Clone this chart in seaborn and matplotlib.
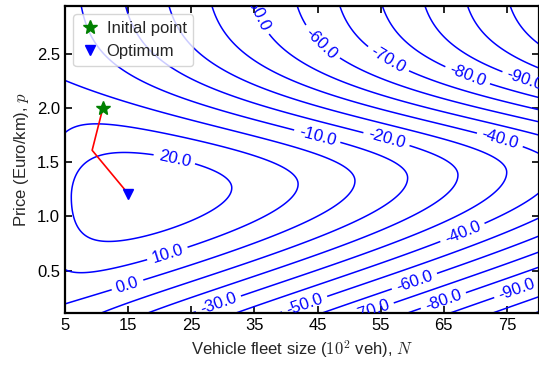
import numpy as np
import pandas as pd
import matplotlib
matplotlib.use("Agg")
import matplotlib.pyplot as plt
import seaborn as sns

# ---- profit model parameters ----
R_MAX = 96.0          # saturated peak revenue
K_HALF = 13.94        # fleet size giving half of the peak revenue
COST = 1.48           # fleet cost per 10^2 vehicles
P_RIDGE0, P_RIDGE1 = 1.16, 0.0033   # revenue-maximising price vs fleet size
UP0, UP1 = 1.02, 0.0081             # demand decay above the ridge price
K_LOW = 1.03                         # revenue shape below the ridge price
M0, M1, M_SCALE = 1.0, 3.0, 25.0

fleet_range = [5, 80]
price_range = [0.11, 2.94]
levels = [-110, -100, -90, -80, -70, -60, -50, -40, -30, -20, -10, 0, 10, 20]

# optimisation path
path_N = [11.0, 9.3, 15.0]
path_p = [2.0, 1.61, 1.21]
start_N, start_p = 11.0, 2.0
opt_N, opt_p = 15.0, 1.21

# where the contour labels sit
label_N = [22.4, 21.1, 15.0, 45.0, 56.0, 73.9, 67.9, 29.2, 42.9, 53.2,
           60.3, 64.9, 76.6, 45.8, 56.3, 68.7, 77.8, 35.8]
label_p = [1.55, 0.68, 0.35, 1.75, 1.73, 1.71, 0.86, 0.21, 0.20, 0.18,
           0.41, 0.23, 0.32, 2.61, 2.46, 2.29, 2.25, 2.88]

x_ticks = [5, 15, 25, 35, 45, 55, 65, 75]
y_ticks = [0.5, 1.0, 1.5, 2.0, 2.5]


def profit(N, p):
    peak = R_MAX * N / (N + K_HALF)
    p_star = P_RIDGE0 + P_RIDGE1 * N
    x = p / p_star
    m = M0 + M1 * (1.0 - np.exp(-N / M_SCALE))
    low = K_LOW * (np.log(x) + (1.0 - x ** m) / m)
    up = -(UP0 + UP1 * N) * (p - p_star) ** 2
    log_share = np.where(p < p_star, low, up)
    return peak * np.exp(log_share) - COST * N


sns.set_theme(style="ticks")
plt.rcParams["font.family"] = ["Liberation Sans", "DejaVu Sans"]
plt.rcParams["mathtext.fontset"] = "cm"

fig = plt.figure(figsize=(5.39, 3.65), dpi=100)
ax = fig.add_axes([65 / 539, 52 / 365, 473.5 / 539, 307 / 365])

Ng, pg = np.meshgrid(np.linspace(*fleet_range, 400), np.linspace(*price_range, 400))
Z = profit(Ng, pg)

cs = ax.contour(Ng, pg, Z, levels=levels, colors="blue", linewidths=1.1,
                linestyles="solid")
ax.clabel(cs, levels, inline=True, fmt="%.1f", fontsize=12,
          manual=list(zip(label_N, label_p)))

path = pd.DataFrame({"N": path_N, "p": path_p})
sns.lineplot(data=path, x="N", y="p", sort=False, estimator=None,
             color="red", linewidth=1.2, ax=ax)
ax.plot([start_N], [start_p], linestyle="none", marker="*", color="green",
        markersize=10, label="Initial point", zorder=5)
ax.plot([opt_N], [opt_p], linestyle="none", marker="v", color="blue",
        markersize=7, label="Optimum", zorder=5)

ax.set_xlim(*fleet_range)
ax.set_ylim(*price_range)
ax.set_xticks(x_ticks)
ax.set_yticks(y_ticks)
ax.set_yticklabels([f"{v:.1f}" for v in y_ticks])
ax.tick_params(direction="in", top=True, right=True, length=5, width=1.2,
               labelsize=12, colors="black")
for s in ax.spines.values():
    s.set_linewidth(1.6)
    s.set_color("black")

ax.set_xlabel("Vehicle fleet size ($10^2$ veh), $N$", fontsize=12)
ax.set_ylabel("Price (Euro/km), $p$", fontsize=12)
ax.legend(loc="upper left", fontsize=12, handletextpad=0.4, borderpad=0.4,
          handlelength=1.2)

fig.savefig("out.png", dpi=100)
